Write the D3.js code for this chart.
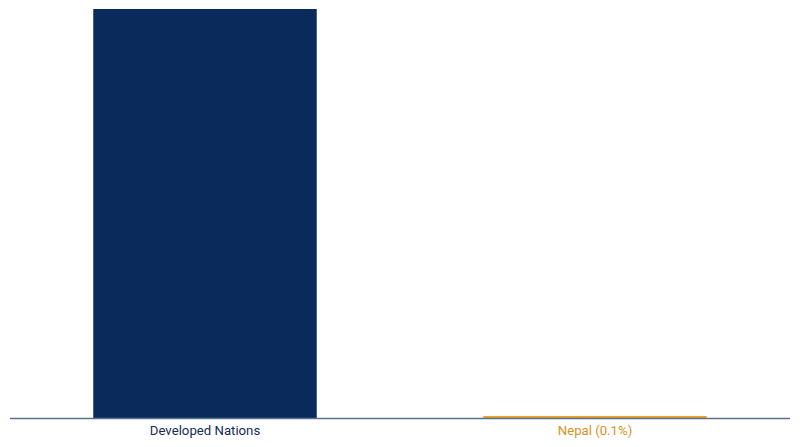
<!DOCTYPE html>
<html>
<head>
<meta charset="utf-8">
<script src="https://cdn.jsdelivr.net/npm/d3@7"></script>
<style>
  html, body { margin: 0; padding: 0; background: #ffffff; }
  svg { display: block; }
</style>
</head>
<body>
<svg id="chart" width="800" height="447"></svg>
<script>
const categories = ["Developed Nations", "Nepal (0.1%)"];
const values = [20, 0.1];
const barColors = ["#092a5b", "#e9a42a"];
const labelColors = ["#142c5a", "#d9921c"];

const svg = d3.select("#chart");
const width = 800, height = 447;
const margin = { top: 9, right: 10, bottom: 29, left: 10 };
const baseline = height - margin.bottom;

const x = d3.scaleBand()
  .domain(categories)
  .range([margin.left, width - margin.right])
  .paddingInner(0.427)
  .paddingOuter(0.2135);

const y = d3.scaleLinear()
  .domain([0, d3.max(values)])
  .range([baseline, margin.top]);

const data = categories.map((c, i) => ({ c, v: values[i], i }));

svg.selectAll("rect.bar")
  .data(data)
  .join("rect")
  .attr("class", "bar")
  .attr("x", d => x(d.c))
  .attr("y", d => y(d.v))
  .attr("width", x.bandwidth())
  .attr("height", d => baseline - y(d.v))
  .attr("fill", d => barColors[d.i]);

const axis = svg.append("g")
  .attr("transform", `translate(0,${baseline})`)
  .call(d3.axisBottom(x).tickSize(0).tickPadding(8));

axis.select(".domain")
  .attr("stroke", "#5c7090")
  .attr("stroke-width", 1.3)
  .attr("d", `M${margin.left},0.5H${width - margin.right}`);

axis.selectAll(".tick text")
  .attr("font-family", "Roboto, sans-serif")
  .attr("font-size", 13.2)
  .attr("fill", (d, i) => labelColors[i]);
</script>
</body>
</html>
